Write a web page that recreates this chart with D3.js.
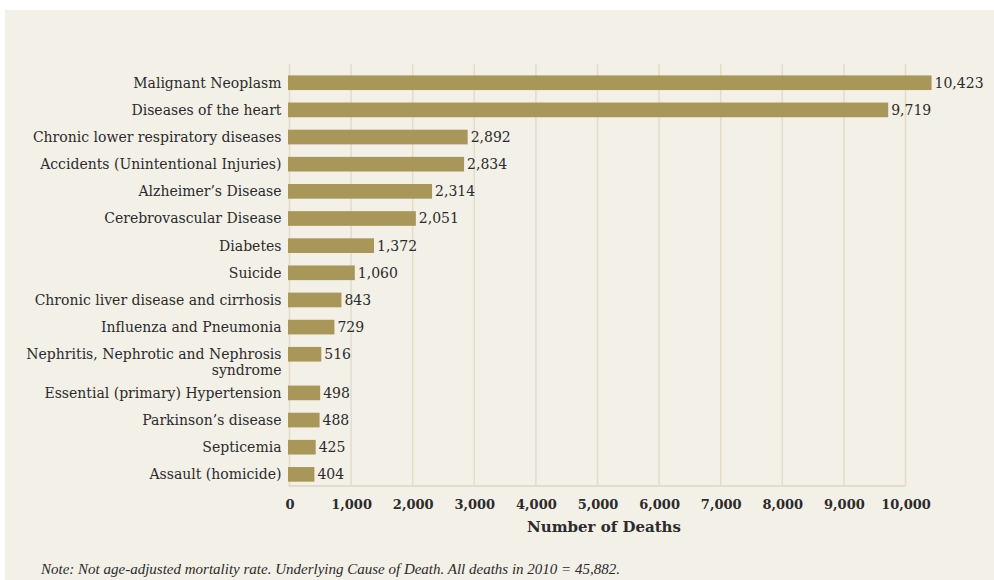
<!DOCTYPE html>
<html>
<head>
<meta charset="utf-8">
<script src="https://cdn.jsdelivr.net/npm/d3@7"></script>
<style>
  body { margin: 0; background: #fff; }
  svg { display: block; }
  .label { font-family: 'DejaVu Serif', serif; font-size: 14px; fill: #2b2b2b; }
  .value { font-family: 'DejaVu Serif', serif; font-size: 14px; fill: #2b2b2b; }
  .tick text { font-family: 'DejaVu Serif', serif; font-size: 13px; font-weight: bold; fill: #2b2b2b; }
  .title { font-family: 'DejaVu Serif', serif; font-size: 15px; font-weight: bold; fill: #2b2b2b; }
  .note { font-family: 'Liberation Serif', serif; font-size: 15px; font-style: italic; fill: #2b2b2b; }
</style>
</head>
<body>
<svg id="chart" width="994" height="580"></svg>
<script>
// data
const causes = [
  'Malignant Neoplasm',
  'Diseases of the heart',
  'Chronic lower respiratory diseases',
  'Accidents (Unintentional Injuries)',
  'Alzheimer\u2019s Disease',
  'Cerebrovascular Disease',
  'Diabetes',
  'Suicide',
  'Chronic liver disease and cirrhosis',
  'Influenza and Pneumonia',
  'Nephritis, Nephrotic and Nephrosis\nsyndrome',
  'Essential (primary) Hypertension',
  'Parkinson\u2019s disease',
  'Septicemia',
  'Assault (homicide)'
]
const deaths = [10423, 9719, 2892, 2834, 2314, 2051, 1372, 1060, 843, 729, 516, 498, 488, 425, 404]
const xTicks = [0, 1000, 2000, 3000, 4000, 5000, 6000, 7000, 8000, 9000, 10000]
const axisTitle = 'Number of Deaths'
const note = 'Note: Not age-adjusted mortality rate. Underlying Cause of Death. All deaths in 2010 = 45,882.'

const rows = causes.map((c, i) => ({cause: c, lines: c.split('\n'), deaths: deaths[i]}))

// layout
const svg = d3.select('#chart')
const plotLeft = 289.5, plotRight = 905.5, plotTop = 64, plotBottom = 486
const extraLine = 11.5 // extra room taken by a two-line label

svg.append('rect')
  .attr('x', 5).attr('y', 10).attr('width', 989).attr('height', 570)
  .attr('fill', '#f3f0e8')

// scales
const x = d3.scaleLinear().domain([0, 10000]).range([plotLeft, plotRight])
const y = d3.scaleBand().domain(causes).range([plotTop, plotBottom - 4.4])
  .paddingInner(0.46).paddingOuter(0.42)

// shift rows below any multi-line label
let shift = 0
rows.forEach(d => {
  d.y = y(d.cause) + shift
  if (d.lines.length > 1) shift += extraLine * (d.lines.length - 1)
})

// grid
const gridColor = '#e3dcc8'
svg.append('g').selectAll('line').data(xTicks).join('line')
  .attr('x1', d => x(d)).attr('x2', d => x(d))
  .attr('y1', plotTop).attr('y2', plotBottom)
  .attr('stroke', gridColor).attr('stroke-width', 1.5)
svg.append('line')
  .attr('x1', plotLeft - 1).attr('x2', plotRight).attr('y1', plotBottom).attr('y2', plotBottom)
  .attr('stroke', gridColor).attr('stroke-width', 2)

// bars
svg.append('g').selectAll('rect').data(rows).join('rect')
  .attr('x', x(0) - 1.5)
  .attr('y', d => d.y)
  .attr('width', d => x(d.deaths) - x(0) + 1.5)
  .attr('height', y.bandwidth())
  .attr('fill', '#a89758')

// value labels
const fmt = d3.format(',')
svg.append('g').selectAll('text').data(rows).join('text')
  .attr('class', 'value')
  .attr('x', d => x(d.deaths) + 3)
  .attr('y', d => d.y + y.bandwidth() / 2)
  .attr('dy', '0.35em')
  .text(d => fmt(d.deaths))

// category labels
const labels = svg.append('g').selectAll('text').data(rows).join('text')
  .attr('class', 'label')
  .attr('text-anchor', 'end')
  .attr('x', plotLeft - 8)
  .attr('y', d => d.y + y.bandwidth() / 2)
labels.selectAll('tspan').data(d => d.lines).join('tspan')
  .attr('x', plotLeft - 8)
  .attr('dy', (d, i) => i === 0 ? '0.35em' : '1.1em')
  .text(d => d)

// x axis
const axis = d3.axisBottom(x).tickValues(xTicks).tickFormat(fmt).tickSize(0).tickPadding(14)
const axG = svg.append('g').attr('transform', `translate(0,${plotBottom})`).call(axis)
axG.select('.domain').remove()

svg.append('text').attr('class', 'title')
  .attr('x', 604).attr('y', 532)
  .attr('text-anchor', 'middle')
  .text(axisTitle)

svg.append('text').attr('class', 'note')
  .attr('x', 41).attr('y', 574)
  .text(note)
</script>
</body>
</html>
